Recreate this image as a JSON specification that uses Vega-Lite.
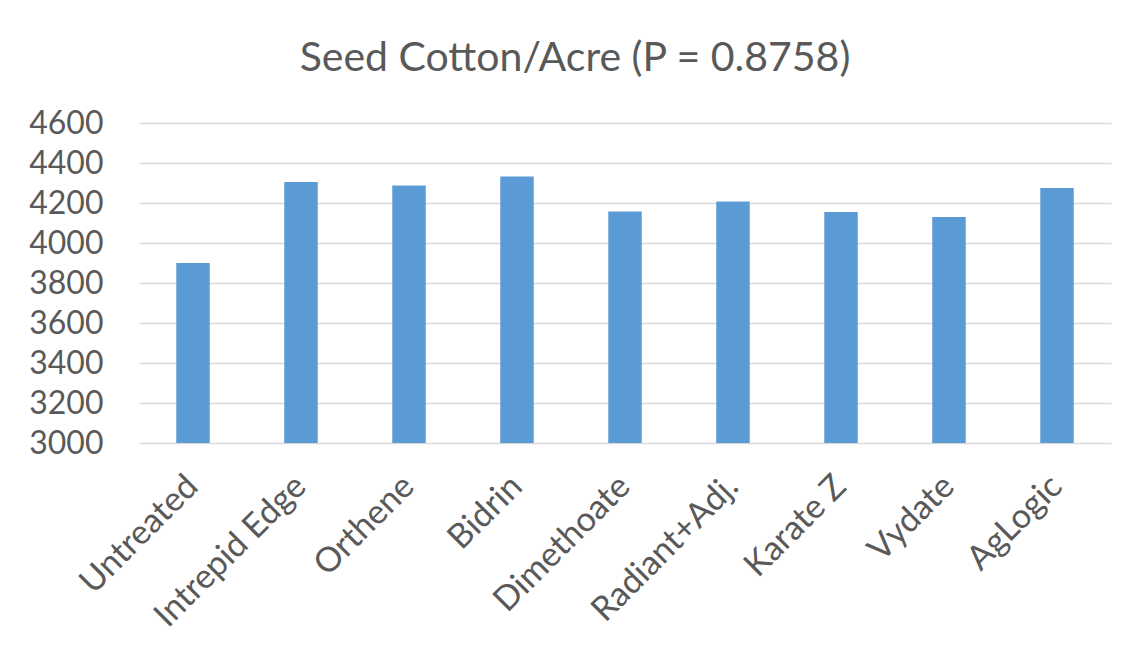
{
  "$schema": "https://vega.github.io/schema/vega-lite/v6.json",
  "autosize": "none",
  "width": 972,
  "height": 320,
  "padding": {"left": 139, "top": 123, "right": 16, "bottom": 212},
  "background": "white",
  "title": {
    "text": "Seed Cotton/Acre (P = 0.8758)",
    "font": "Lato",
    "fontSize": 41,
    "fontWeight": "normal",
    "color": "#595959",
    "anchor": "middle",
    "dx": -50,
    "offset": 27
  },
  "data": {
    "values": [
      {"treatment": "Untreated", "yield": 3900},
      {"treatment": "Intrepid Edge", "yield": 4305},
      {"treatment": "Orthene", "yield": 4288},
      {"treatment": "Bidrin", "yield": 4332},
      {"treatment": "Dimethoate", "yield": 4158},
      {"treatment": "Radiant+Adj.", "yield": 4207},
      {"treatment": "Karate Z", "yield": 4155},
      {"treatment": "Vydate", "yield": 4130},
      {"treatment": "AgLogic", "yield": 4275}
    ]
  },
  "mark": {"type": "bar", "color": "#5b9bd5"},
  "encoding": {
    "x": {
      "field": "treatment",
      "type": "nominal",
      "sort": null,
      "scale": {"paddingInner": 0.69, "paddingOuter": 0.345},
      "axis": {
        "title": null,
        "labelAngle": -45,
        "labelAlign": "right",
        "labelBaseline": "middle",
        "labelFont": "Lato",
        "labelFontSize": 34,
        "labelColor": "#595959",
        "labelPadding": 38,
        "labelLimit": 0,
        "ticks": false,
        "domain": false,
        "grid": false
      }
    },
    "y": {
      "field": "yield",
      "type": "quantitative",
      "scale": {"domain": [3000, 4600], "zero": false},
      "axis": {
        "title": null,
        "values": [3000, 3200, 3400, 3600, 3800, 4000, 4200, 4400, 4600],
        "format": "d",
        "labelFont": "Lato",
        "labelFontSize": 32,
        "labelColor": "#595959",
        "labelPadding": 36,
        "ticks": false,
        "domain": false,
        "grid": true,
        "gridColor": "#d9d9d9",
        "gridWidth": 1.5
      }
    },
    "y2": {"datum": 3000}
  },
  "config": {"view": {"stroke": null}}
}
